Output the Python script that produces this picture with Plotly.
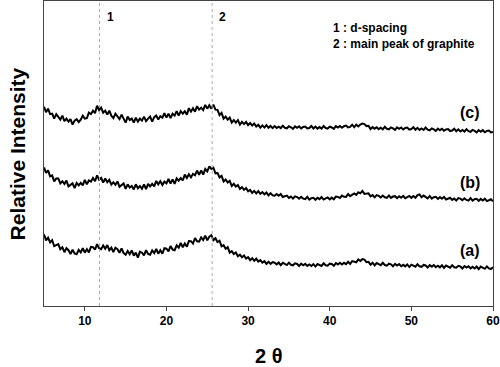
import plotly.graph_objects as go

# 2-theta sampling grid (degrees), 0.25 deg step from 5 to 60
two_theta = [5 + 0.25 * i for i in range(221)]

# Relative intensity (arbitrary units, offset traces)
intensity_c = [
    200, 194.5, 198, 192.5, 193, 188, 192.5, 190, 187, 191, 185.5, 188, 185, 187.5, 182, 186,
    187.5, 184.5, 187, 191, 188, 188.5, 194, 192.5, 196, 193.5, 201, 196.5, 199, 194, 196, 192,
    196, 191, 188.5, 193, 190, 187.5, 192, 187.5, 184, 190, 186.5, 188, 184, 189, 185, 188,
    186, 190, 185.5, 188, 190, 185, 189.5, 191, 187, 190.5, 189, 193.5, 189, 193, 188.5, 193,
    191, 195.5, 191, 195.5, 193, 195.5, 192, 198.5, 195, 198.5, 195, 200.5, 197, 199, 196.5, 201.8,
    198, 201.5, 198, 202, 197, 196.8, 191.5, 193.8, 188, 190, 187, 189, 184, 186.5, 184, 186.5,
    182, 184.8, 182.5, 184.7, 181.5, 183.5, 181, 183, 180, 181.8, 179, 181.2, 179, 181.4, 178.8, 180.6,
    178.5,
    180.5, 178.5, 179.9, 178.4, 180.9, 178.8, 178.3, 180.3, 179.3, 177.8, 180.2, 178.7, 180.2, 178.2, 179.6, 180.1,
    178.1, 178.6, 180.6, 178.1, 180, 178, 179.5, 178, 180.5, 178.5, 178, 180, 179.1, 177.7, 180.4, 179,
    180.6, 178.8, 180.4, 181, 179.1, 179.7, 181.9, 179.5, 181.9, 180.2, 182.1, 183, 182.5, 180.5, 180.8, 177.5,
    179.5, 177.9, 179.4, 177.4, 178.9, 177.3, 179.8, 177.8, 177.3, 179.2, 178.2, 176.7, 179.2, 177.7, 179.1, 177.1,
    178.6, 179.1, 177, 177.5, 179.4, 176.9, 178.8, 176.7, 178.1, 176.6, 179, 176.9, 176.3, 178.2, 177.2, 175.6,
    178, 176.4, 177.8, 175.8, 177.2, 177.6, 175.5, 176, 177.9, 175.3, 177.2, 175.1, 176.6, 175, 177.4, 175.4,
    174.8, 176.7, 175.6, 174.1, 176.5, 174.9, 176.4, 174.3, 175.7, 176.1, 174.1, 174.5,
]

intensity_b = [
    139, 133.5, 136, 130, 131, 125, 128, 128, 123, 125.2, 122.5, 125.8, 120, 121.5, 123, 118.2,
    123.5, 121, 123.5, 121, 126.5, 122.2, 126, 124.8, 128.5, 125.2, 131, 126.8, 128.5, 123.8, 128, 124.2,
    126.5, 121.8, 124.2, 121.6, 125, 119.6, 121.2, 122.9, 117.5, 122.1, 118.8, 120.4, 117, 122.1, 118.2, 120.4,
    117.5, 121.9, 117.2, 122.6, 120, 122.5, 120, 125.5, 122, 125.2, 121.5, 124.8, 123, 127.4, 122.8, 127.1,
    122.5, 128.1, 125.8, 128.4, 126, 131.8, 128.5, 132.2, 129, 132.6, 131.2, 135.9, 131.5, 136.1, 131.8, 137.4,
    135, 140.2, 137.5, 138.8, 133, 133.5, 129, 130.5, 125, 126.9, 123.8, 125.6, 120.5, 122.6, 119.8, 121.4,
    117.5, 119.2, 116.5, 118.3, 115, 116.5, 113.5, 115.5, 113, 115.3, 112.5, 114.2, 112, 113.8, 111, 113.2,
    111,
    110.7, 112.4, 110.6, 112.3, 109.4, 110.1, 110.8, 108.5, 109.8, 107.7, 110, 109.3, 107.7, 109.5, 107.8, 107.2,
    109.5, 106.8, 108.2, 108.5, 106.6, 108.6, 107.2, 109.3, 106.8, 107.9, 108.9, 107, 108.7, 107, 109.8, 109.5,
    108.4, 110.8, 109.6, 109.5, 112.4, 110.2, 112.1, 113, 111.5, 114, 113, 115.5, 112.5, 113, 113, 110,
    111.3, 109, 111.2, 110.5, 108.9, 110.8, 109.1, 108.5, 110.9, 108.4, 109.8, 110.2, 108.2, 110.1, 108.6, 110.5,
    108.1, 109.2, 110.4, 108.5, 110.3, 108.5, 111.2, 112, 109.1, 110.8, 108.9, 108, 110.4, 107.8, 109.1, 109.5,
    107.4, 109.2, 107.6, 109.5, 106.9, 107.8, 108.6, 106.5, 107.9, 105.8, 108.2, 107.7, 106.1, 108, 106.4, 105.8,
    108.3, 105.7, 107.1, 107.5, 105.4, 107.4, 105.8, 107.7, 105.2, 106.1, 107.1, 105,
]

intensity_a = [
    72, 65.8, 68.5, 63.8, 66, 60, 61, 62, 57, 59, 54, 58, 56, 52.2, 56.5, 52.8,
    52, 56.4, 53.8, 58.1, 53.5, 57.1, 53.8, 59.4, 59, 56.5, 62, 58, 57, 60.8, 57.5, 61.2,
    56, 58.5, 54, 58.5, 57, 53.4, 57.8, 53.1, 51.5, 55.2, 52, 55.8, 50.5, 53.5, 48.5, 54.5,
    53.5, 50.8, 56, 52.2, 51.5, 55.8, 53, 57.2, 52.5, 56, 52.5, 58, 57.5, 54.9, 60.2, 56.6,
    56, 60.8, 58.5, 63.2, 59, 62.8, 59.5, 65.2, 65, 62.6, 68.2, 64.9, 64.5, 68.9, 66.2, 70.6,
    66, 69.5, 71, 66, 68, 64.2, 65.5, 59.8, 61, 57.5, 59, 53.5, 55, 52.1, 53.7, 49.9,
    51.5, 48.9, 50.7, 47.6, 49, 46, 48, 45.5, 47.5, 44.5, 46, 43.5, 45, 42.3, 44.5, 42.2,
    44,
    43.4, 41.8, 43.6, 41, 43.4, 42.2, 41.1, 43.5, 41.4, 40.8, 42.8, 42.2, 40.1, 42.5, 40.9, 42.3,
    40.2, 41.7, 40.1, 42, 39.6, 42.1, 41.2, 40.2, 42.8, 40.9, 40.4, 42.5, 42.2, 40.4, 43.1, 41.7,
    43.4, 41.6, 43.3, 42, 44.4, 42.3, 45.1, 44.5, 43.9, 46.7, 45.1, 47, 46.5, 44, 44.3, 41.5,
    43.4, 40.7, 43.1, 42, 40.9, 43.3, 41.1, 40.5, 42.4, 41.8, 39.8, 42.2, 40.6, 42, 39.9, 41.3,
    39.8, 41.7, 39.1, 41.5, 40.5, 39.4, 41.9, 39.8, 39.3, 41.2, 40.7, 38.6, 41.1, 39.5, 41, 38.9,
    40.4, 38.8, 40.8, 38.2, 40.6, 39.6, 38.5, 41, 38.9, 38.4, 40.3, 39.7, 37.6, 40.1, 38.5, 39.9,
    37.8, 39.3, 37.7, 39.6, 37, 39.5, 38.4, 37.3, 39.7, 37.7, 37.1, 39,
]

series_names = ["(a)", "(b)", "(c)"]
marker_positions = [11.8, 25.6]
marker_labels = ["1", "2"]
note_lines = ["1 : d-spacing", "2 : main peak of graphite"]
x_ticks = [10, 20, 30, 40, 50, 60]

FONT = "Arial, Liberation Sans, Helvetica, sans-serif"

fig = go.Figure()
for name, ys in zip(series_names, [intensity_a, intensity_b, intensity_c]):
    fig.add_trace(go.Scatter(x=two_theta, y=ys, mode="lines", name=name,
                             line=dict(color="black", width=2), showlegend=False))

# dotted reference lines
for xp, lab in zip(marker_positions, marker_labels):
    fig.add_shape(type="line", x0=xp, x1=xp, y0=0, y1=1, xref="x", yref="paper",
                  line=dict(color="#aaaaaa", width=1, dash="dot"))
    fig.add_annotation(x=xp, y=290, xref="x", yref="y", text=lab, showarrow=False,
                       xanchor="left", xshift=5, yanchor="middle",
                       font=dict(family=FONT, size=12, color="black", weight="bold"))

# series labels
label_y = [56, 124, 194]
for name, yl in zip(series_names, label_y):
    fig.add_annotation(x=58.7, y=yl, xref="x", yref="y", text=name, showarrow=False,
                       xanchor="right", yanchor="middle",
                       font=dict(family=FONT, size=16, color="black", weight="bold"))

# note box
fig.add_annotation(x=40.2, y=271, xref="x", yref="y",
                   text="<br>".join(note_lines), showarrow=False, align="left",
                   xanchor="left", yanchor="middle",
                   font=dict(family=FONT, size=12, color="black", weight="bold"))

# axis titles
fig.add_annotation(x=0.5, y=-0.163, xref="paper", yref="paper", text="2 θ",
                   showarrow=False, xanchor="center", yanchor="middle",
                   font=dict(family=FONT, size=20, color="black", weight="bold"))
fig.add_annotation(x=-0.058, y=0.5, xref="paper", yref="paper", text="Relative Intensity",
                   showarrow=False, textangle=-90, xanchor="center", yanchor="middle",
                   font=dict(family=FONT, size=21, color="black", weight="bold"))

fig.update_layout(
    width=500, height=367,
    margin=dict(l=44, r=7, t=1, b=61),
    paper_bgcolor="white", plot_bgcolor="white",
    xaxis=dict(range=[5, 60], tickvals=x_ticks, ticks="outside", ticklen=4,
               tickcolor="#444444", showline=True, linecolor="#444444", linewidth=1,
               mirror=True, showgrid=False, zeroline=False, automargin=False,
               tickfont=dict(family=FONT, size=12, color="black", weight="bold")),
    yaxis=dict(range=[0, 306], showticklabels=False, ticks="", showline=True,
               linecolor="#444444", linewidth=1, mirror=True, showgrid=False, zeroline=False,
               automargin=False),
)

fig.write_html("out.html", config={"displayModeBar": False},
               post_script="document.body.style.margin='0';")
